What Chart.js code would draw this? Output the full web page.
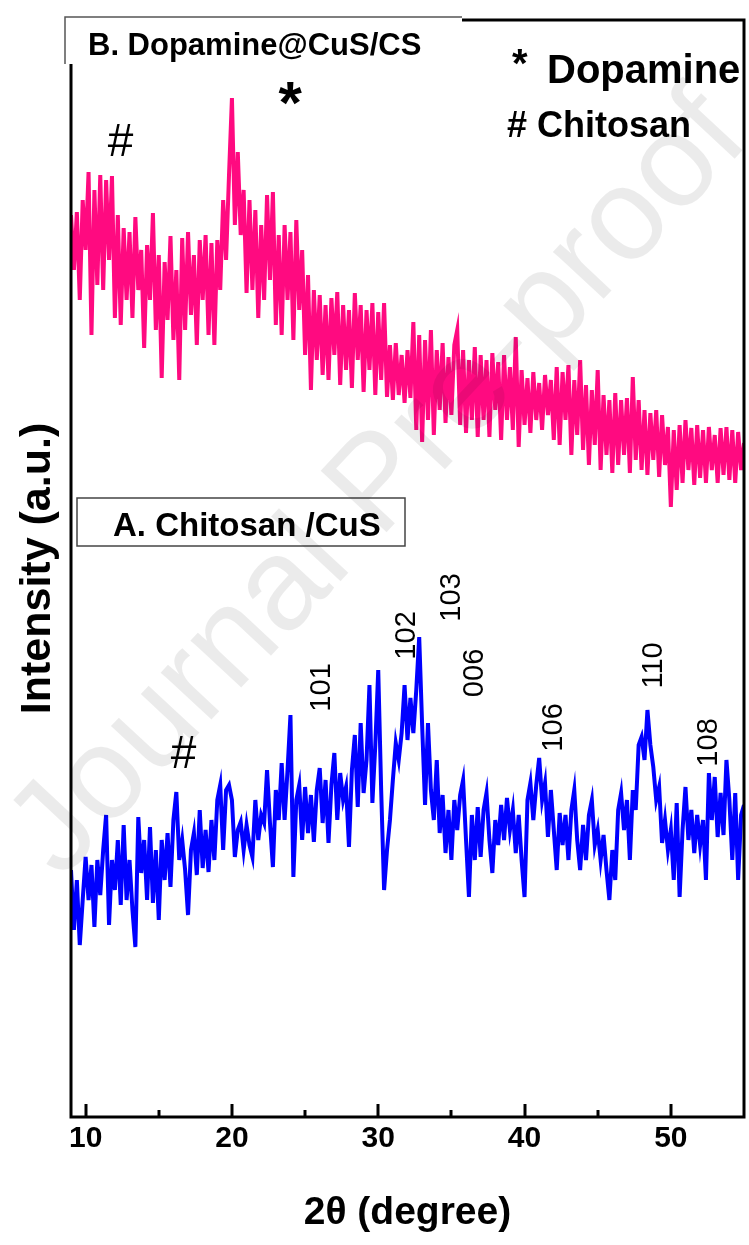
<!DOCTYPE html>
<html>
<head>
<meta charset="utf-8">
<title>XRD Chitosan/CuS</title>
<script src="https://cdn.jsdelivr.net/npm/chart.js@4.4.1/dist/chart.umd.min.js"></script>
<style>
  html, body { margin: 0; padding: 0; background: #fff; }
  canvas { display: block; }
</style>
</head>
<body>
<canvas id="xrd" width="749" height="1245"></canvas>
<script>
// scan grid (2θ, degrees)
var scanStart = 9.0;
var scanStep = 0.2;

// B. Dopamine@CuS/CS
var dopamineCusCs = [
  902, 847, 905, 817, 917, 867, 945, 782, 927, 832,
  942, 827, 937, 857, 941, 799, 902, 792, 889, 817,
  885, 799, 900, 827, 867, 769, 872, 817, 904, 787,
  862, 739, 855, 797, 881, 777, 847, 737, 879, 787,
  885, 802, 862, 772, 877, 817, 882, 782, 874, 772,
  877, 827, 917, 857, 942, 1019, 892, 965, 882, 927,
  824, 917, 827, 907, 799, 892, 817, 922, 837, 925,
  792, 882, 782, 892, 817, 885, 777, 897, 807, 867,
  762, 842, 727, 827, 757, 822, 742, 812, 737, 819,
  762, 825, 732, 812, 747, 807, 729, 824, 757, 812,
  725, 807, 747, 814, 722, 805, 737, 814, 720, 772,
  717, 774, 722, 762, 714, 767, 719, 795, 687, 782,
  675, 777, 697, 787, 682, 767, 707, 774, 694, 760,
  702, 772, 787, 692, 767, 684, 757, 697, 770, 680,
  762, 697, 757, 680, 764, 707, 755, 677, 762, 697,
  750, 687, 780, 670, 747, 692, 739, 684, 745, 697,
  734, 687, 742, 702, 737, 677, 750, 672, 745, 697,
  752, 662, 737, 682, 757, 667, 732, 652, 727, 672,
  747, 647, 722, 662, 717, 644, 724, 652, 717, 662,
  719, 644, 740, 657, 717, 647, 707, 642, 704, 657,
  707, 640, 702, 652, 690, 610, 687, 627, 692, 634,
  697, 647, 689, 632, 692, 639, 687, 634, 690, 647,
  682, 634, 689, 642, 690, 637, 687, 634, 685, 647,
  674
];

// A. Chitosan /CuS
var chitosanCus = [
  247, 187, 237, 172, 217, 260, 217, 252, 190, 257,
  222, 267, 302, 192, 257, 227, 277, 212, 292, 217,
  257, 207, 170, 300, 244, 277, 217, 290, 214, 267,
  197, 277, 237, 284, 230, 297, 325, 257, 277, 247,
  202, 267, 284, 242, 307, 249, 287, 245, 297, 257,
  317, 332, 267, 327, 332, 317, 260, 287, 295, 267,
  292, 272, 260, 317, 277, 302, 294, 347, 294, 250,
  327, 297, 354, 297, 347, 402, 240, 317, 332, 277,
  330, 284, 322, 275, 327, 349, 294, 337, 274, 332,
  364, 297, 344, 317, 330, 270, 347, 382, 310, 394,
  324, 357, 432, 314, 372, 447, 327, 227, 267, 297,
  337, 374, 357, 384, 432, 377, 419, 384, 427, 480,
  392, 312, 394, 327, 297, 357, 284, 322, 264, 307,
  257, 317, 287, 322, 337, 277, 220, 302, 257, 310,
  260, 307, 324, 277, 244, 297, 272, 312, 277, 319,
  287, 307, 264, 302, 257, 220, 317, 334, 297, 332,
  359, 317, 334, 280, 327, 287, 247, 304, 272, 302,
  257, 307, 327, 277, 247, 292, 257, 302, 317, 272,
  287, 257, 282, 247, 217, 267, 237, 307, 324, 287,
  317, 257, 327, 307, 372, 380, 357, 407, 372, 350,
  317, 330, 274, 297, 267, 287, 237, 314, 220, 287,
  330, 277, 307, 264, 302, 272, 297, 237, 344, 297,
  340, 280, 324, 282, 357, 317, 257, 324, 237, 302,
  312
];

var xMajorTicks = [10, 20, 30, 40, 50];
var xMinorTicks = [15, 25, 35, 45];

// reflection indices and the 2θ / height they are written at
var peakNames = ['101', '102', '103', '006', '106', '110', '108'];
var peakNoteAngle = [26.0, 31.8, 34.9, 36.5, 41.9, 48.7, 52.5];
var peakNoteHeight = [430, 482, 520, 444, 390, 452, 375];

function toPoints(values) {
  return values.map(function (v, i) {
    return { x: +(scanStart + i * scanStep).toFixed(1), y: v };
  });
}

var SANS = "'Liberation Sans', Arial, sans-serif";

// draws text so that its ink box is centred on (cx, cy)
function glyphAt(ctx, text, font, cx, cy) {
  ctx.font = font;
  ctx.textAlign = 'left';
  ctx.textBaseline = 'alphabetic';
  var m = ctx.measureText(text);
  ctx.fillText(text,
    cx - (m.actualBoundingBoxRight - m.actualBoundingBoxLeft) / 2,
    cy + (m.actualBoundingBoxAscent - m.actualBoundingBoxDescent) / 2);
}

var frameAndNotes = {
  id: 'frameAndNotes',
  afterDraw: function (chart) {
    var ctx = chart.ctx;
    var a = chart.chartArea;
    var xs = chart.scales.x;
    var ys = chart.scales.y;
    ctx.save();

    // plot frame
    ctx.strokeStyle = '#000';
    ctx.lineWidth = 3;
    ctx.strokeRect(a.left, a.top, a.right - a.left, a.bottom - a.top);

    // inward tick marks on the 2θ axis
    xMajorTicks.forEach(function (v) {
      var px = Math.round(xs.getPixelForValue(v));
      ctx.beginPath(); ctx.moveTo(px, a.bottom); ctx.lineTo(px, a.bottom - 13); ctx.stroke();
    });
    xMinorTicks.forEach(function (v) {
      var px = Math.round(xs.getPixelForValue(v));
      ctx.beginPath(); ctx.moveTo(px, a.bottom); ctx.lineTo(px, a.bottom - 7); ctx.stroke();
    });

    // sample label B, sitting over the top-left corner of the frame
    ctx.fillStyle = '#fff';
    ctx.fillRect(64, 16, 398, 48);
    ctx.strokeStyle = '#555';
    ctx.lineWidth = 1.5;
    ctx.beginPath(); ctx.moveTo(65, 64); ctx.lineTo(65, 17); ctx.lineTo(462, 17); ctx.stroke();
    ctx.fillStyle = '#000';
    ctx.textAlign = 'left';
    ctx.textBaseline = 'alphabetic';
    ctx.font = 'bold 31px ' + SANS;
    ctx.fillText('B. Dopamine@CuS/CS', 88, 55);

    // sample label A
    ctx.strokeStyle = '#444';
    ctx.lineWidth = 1.5;
    ctx.strokeRect(77, 498, 328, 48);
    ctx.font = 'bold 33px ' + SANS;
    ctx.fillText('A. Chitosan /CuS', 113, 536);

    // key
    glyphAt(ctx, '*', 'bold 40px ' + SANS, 520, 57);
    ctx.font = 'bold 40px ' + SANS;
    ctx.fillText('Dopamine', 547, 83);
    ctx.font = 'bold 36px ' + SANS;
    ctx.fillText('# Chitosan', 507, 137);

    // phase markers
    glyphAt(ctx, '#', '46px ' + SANS, xs.getPixelForValue(12.4), ys.getPixelForValue(977));
    glyphAt(ctx, '*', 'bold 60px ' + SANS, xs.getPixelForValue(24.0), ys.getPixelForValue(1024));
    glyphAt(ctx, '#', '46px ' + SANS, xs.getPixelForValue(16.7), ys.getPixelForValue(365));

    // CuS reflections
    peakNames.forEach(function (name, i) {
      ctx.save();
      ctx.translate(xs.getPixelForValue(peakNoteAngle[i]), ys.getPixelForValue(peakNoteHeight[i]));
      ctx.rotate(-Math.PI / 2);
      glyphAt(ctx, name, '29px ' + SANS, 0, 0);
      ctx.restore();
    });

    // watermark
    ctx.save();
    ctx.translate(380, 486);
    ctx.rotate(-47 * Math.PI / 180);
    ctx.fillStyle = 'rgba(0, 0, 0, 0.08)';
    ctx.font = '131px ' + SANS;
    ctx.textAlign = 'center';
    ctx.textBaseline = 'middle';
    ctx.fillText('Journal Pre-proof', 0, 0);
    ctx.restore();

    ctx.restore();
  }
};

new Chart(document.getElementById('xrd'), {
  type: 'line',
  data: {
    datasets: [{
      label: 'B. Dopamine@CuS/CS',
      data: toPoints(dopamineCusCs),
      borderColor: '#ff0a80',
      borderWidth: 4,
      pointRadius: 0,
      tension: 0,
      fill: false
    },
    {
      label: 'A. Chitosan /CuS',
      data: toPoints(chitosanCus),
      borderColor: '#0000ff',
      borderWidth: 4,
      pointRadius: 0,
      tension: 0,
      fill: false
    }]
  },
  options: {
    responsive: false,
    animation: false,
    devicePixelRatio: 1,
    layout: { padding: { top: 20, right: 5, bottom: 0, left: 0 } },
    plugins: {
      legend: { display: false },
      tooltip: { enabled: false }
    },
    scales: {
      x: {
        type: 'linear',
        min: 9,
        max: 55,
        grid: { display: false, drawTicks: false },
        border: { display: false },
        afterBuildTicks: function (s) {
          s.ticks = xMajorTicks.map(function (v) { return { value: v }; });
        },
        afterFit: function (s) { s.height = 128; },
        ticks: {
          padding: 4,
          color: '#000',
          font: { family: SANS, size: 30, weight: 'bold' }
        },
        title: {
          display: true,
          text: '2θ (degree)',
          color: '#000',
          font: { family: SANS, size: 39, weight: 'bold' },
          padding: { top: 0, bottom: 8 }
        }
      },
      y: {
        min: 0,
        max: 1097,
        grid: { display: false },
        border: { display: false },
        ticks: { display: false },
        afterFit: function (s) { s.width = 71; },
        title: {
          display: true,
          text: 'Intensity (a.u.)',
          color: '#000',
          font: { family: SANS, size: 43, weight: 'bold' },
          padding: { top: 12, bottom: 0 }
        }
      }
    }
  },
  plugins: [frameAndNotes]
});
</script>
</body>
</html>
